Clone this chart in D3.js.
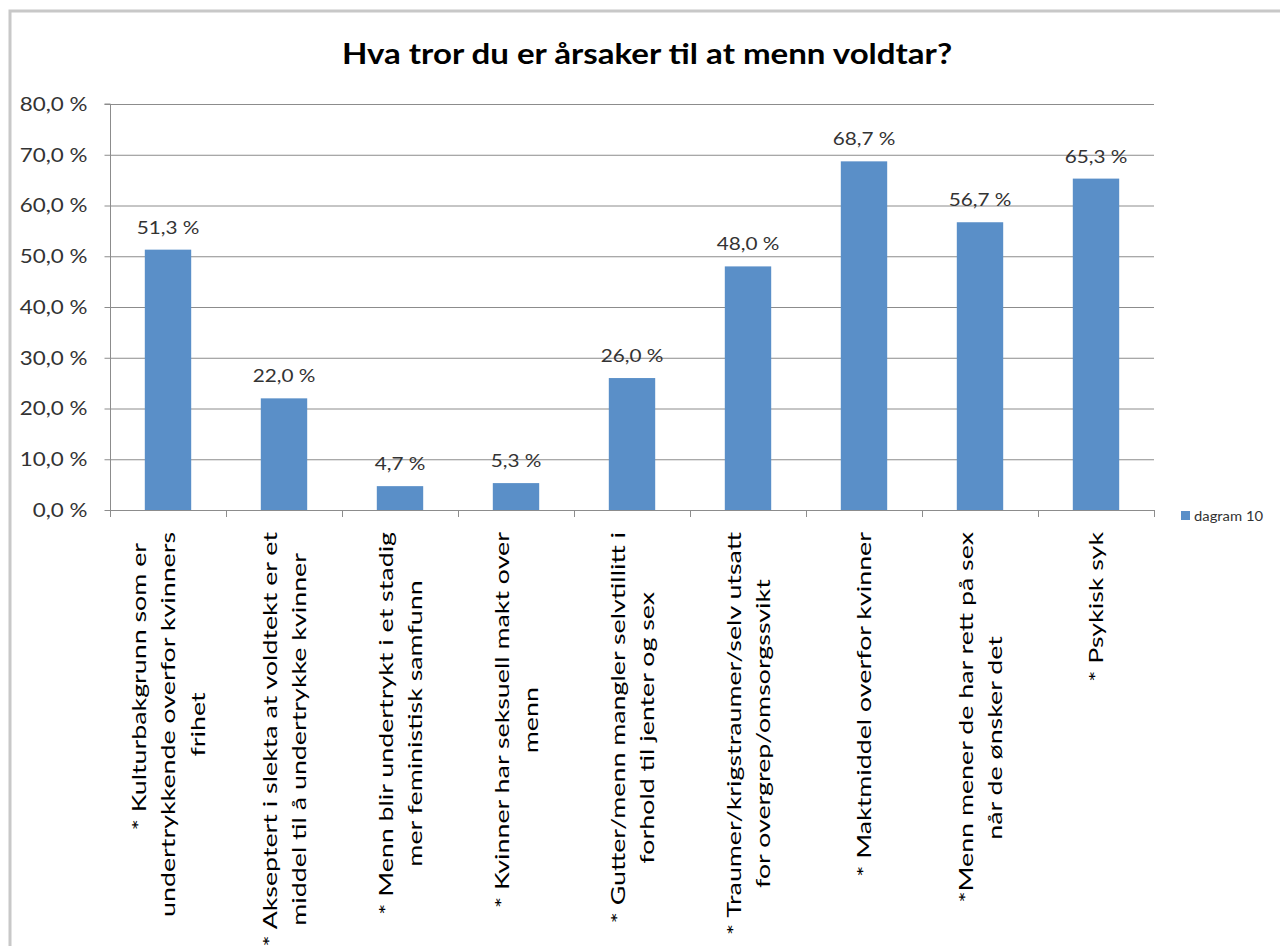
<!DOCTYPE html>
<html>
<head>
<meta charset="utf-8">
<script src="https://cdn.jsdelivr.net/npm/d3@7"></script>
<style>
  html, body { margin: 0; padding: 0; background: #fff; }
  svg { display: block; }
  text { font-family: Lato, "Open Sans", sans-serif; }
</style>
</head>
<body>
<svg id="chart" width="1280" height="946"></svg>
<script>
const title = "Hva tror du er årsaker til at menn voldtar?";
const categories = [
  "           * Kulturbakgrunn som er\nundertrykkende overfor kvinners\nfrihet",
  "* Akseptert i slekta at voldtekt er et\nmiddel til å undertrykke kvinner",
  "* Menn blir undertrykt i et stadig\nmer feministisk samfunn",
  "* Kvinner har seksuell makt over\nmenn",
  "* Gutter/menn mangler selvtillitt i\nforhold til jenter og sex",
  "* Traumer/krigstraumer/selv utsatt\nfor overgrep/omsorgssvikt",
  "* Maktmiddel overfor kvinner",
  "*Menn mener de har rett på sex\nnår de ønsker det      ",
  "* Psykisk syk"
];
const values = [51.3, 22.0, 4.7, 5.3, 26.0, 48.0, 68.7, 56.7, 65.3];
const yTicks = [0, 10, 20, 30, 40, 50, 60, 70, 80];
const seriesName = "dagram 10";

const fmt = v => v.toFixed(1).replace(".", ",") + " %";
// horizontal glyph stretch seen in the reference
const SX_TITLE = 1.18, SX_TICK = 1.12, SX_LABEL = 1.22, SX_LEG = 1.14;
const SL = 1.41;      // stretch along the rotated category labels

const svg = d3.select("#chart");

// outer chart border
svg.append("path")
  .attr("d", "M10,946 V11 H1280")
  .attr("fill", "none").attr("stroke", "#c8c8c8").attr("stroke-width", 3);

const pLeft = 110, pRight = 1154, pTop = 104, pBottom = 510;

const x = d3.scaleBand().domain(d3.range(categories.length))
  .range([pLeft, pRight]).paddingInner(0.6).paddingOuter(0.3);
const y = d3.scaleLinear().domain([0, 80]).range([pBottom, pTop]);

// title
svg.append("text")
  .attr("transform", `translate(647,64) scale(${SX_TITLE},1)`)
  .attr("text-anchor", "middle")
  .attr("font-size", 28).attr("font-weight", "bold")
  .attr("fill", "#000")
  .text(title);

// gridlines
svg.append("g").selectAll("line").data(yTicks.filter(d => d > 0)).join("line")
  .attr("x1", pLeft).attr("x2", pRight)
  .attr("y1", d => y(d) + 0.5).attr("y2", d => y(d) + 0.5)
  .attr("stroke", "#8c8c8c").attr("stroke-width", 1);

// y axis
const yAxis = svg.append("g").attr("transform", `translate(${pLeft + 0.5},0)`)
  .call(d3.axisLeft(y).tickValues(yTicks).tickSize(6).tickPadding(17).tickFormat(fmt));
yAxis.select(".domain").attr("stroke", "#8c8c8c").attr("d", `M-6,${y(80)}H0V${y(0)}`);
yAxis.selectAll(".tick line").attr("stroke", "#8c8c8c");
yAxis.selectAll(".tick text")
  .attr("font-size", 20).attr("fill", "#333")
  .attr("font-family", "Lato, sans-serif")
  .attr("x", -23 / SX_TICK)
  .attr("transform", `scale(${SX_TICK},1)`);

// bars
svg.append("g").selectAll("rect").data(values).join("rect")
  .attr("x", (d, i) => x(i)).attr("width", x.bandwidth())
  .attr("y", d => y(d)).attr("height", d => y(0) - y(d))
  .attr("fill", "#5a8fc8");

// data labels
svg.append("g").selectAll("text").data(values).join("text")
  .attr("transform", (d, i) => `translate(${x(i) + x.bandwidth() / 2},${y(d) - 16}) scale(${SX_LABEL},1)`)
  .attr("text-anchor", "middle")
  .attr("font-size", 17).attr("fill", "#333")
  .text(fmt);

// x axis
const step = x.step();
const boundaries = d3.range(categories.length + 1).map(i => pLeft + i * step);
svg.append("line").attr("x1", pLeft).attr("x2", pRight)
  .attr("y1", pBottom + 0.5).attr("y2", pBottom + 0.5).attr("stroke", "#8c8c8c");
svg.append("g").selectAll("line").data(boundaries).join("line")
  .attr("x1", d => d + 0.5).attr("x2", d => d + 0.5)
  .attr("y1", pBottom).attr("y2", pBottom + 7)
  .attr("stroke", "#8c8c8c");

// category labels (rotated)
const pitch = 29.5;
const labelG = svg.append("g");
categories.forEach((c, i) => {
  const lines = c.split("\n");
  const g = labelG.append("g")
    .attr("transform", `translate(${x(i) + x.bandwidth() / 2},532) rotate(-90) scale(${SL},1)`);
  const texts = lines.map((ln, j) => g.append("text")
    .attr("y", (j - (lines.length - 1) / 2) * pitch)
    .attr("dominant-baseline", "central")
    .attr("text-anchor", "middle")
    .attr("font-size", 19).attr("fill", "#000")
    .attr("xml:space", "preserve")
    .style("white-space", "pre")
    .text(ln));
  const maxLen = d3.max(texts, t => t.node().getComputedTextLength());
  texts.forEach(t => t.attr("x", -maxLen / 2));
});

// legend
const lg = svg.append("g");
lg.append("rect").attr("x", 1181).attr("y", 511).attr("width", 9).attr("height", 9).attr("fill", "#5a8fc8");
lg.append("text").attr("transform", `translate(1194,516) scale(${SX_LEG},1)`).attr("dominant-baseline", "central")
  .attr("font-size", 13).attr("fill", "#333").text(seriesName);
</script>
</body>
</html>
